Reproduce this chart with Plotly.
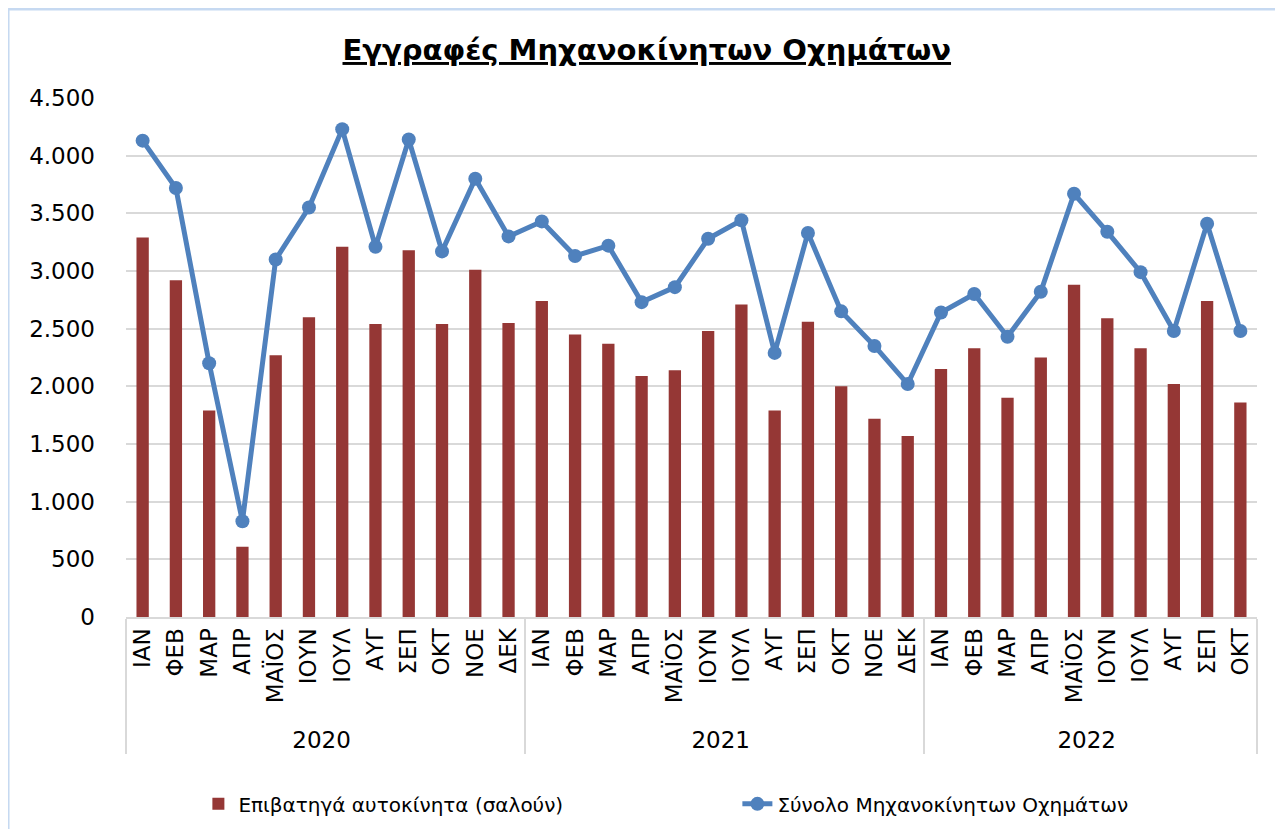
import plotly.graph_objects as go

title_text = "Εγγραφές Μηχανοκίνητων Οχημάτων"
series_bar_name = "Επιβατηγά αυτοκίνητα (σαλούν)"
series_line_name = "Σύνολο Μηχανοκίνητων Οχημάτων"

month_names = ["ΙΑΝ", "ΦΕΒ", "ΜΑΡ", "ΑΠΡ", "ΜΑΪΟΣ", "ΙΟΥΝ", "ΙΟΥΛ", "ΑΥΓ", "ΣΕΠ", "ΟΚΤ", "ΝΟΕ", "ΔΕΚ"]
years = ["2020"] * 12 + ["2021"] * 12 + ["2022"] * 10
months = month_names + month_names + month_names[:10]

passenger_cars = [
    3290, 2920, 1790, 610, 2270, 2600, 3210, 2540, 3180, 2540, 3010, 2550,
    2740, 2450, 2370, 2090, 2140, 2480, 2710, 1790, 2560, 2000, 1720, 1570,
    2150, 2330, 1900, 2250, 2880, 2590, 2330, 2020, 2740, 1860,
]
total_vehicles = [
    4130, 3720, 2200, 830, 3100, 3550, 4230, 3210, 4140, 3170, 3800, 3300,
    3430, 3130, 3220, 2730, 2860, 3280, 3440, 2290, 3330, 2650, 2350, 2020,
    2640, 2800, 2430, 2820, 3670, 3340, 2990, 2480, 3410, 2480,
]

y_ticks = [0, 500, 1000, 1500, 2000, 2500, 3000, 3500, 4000, 4500]

BAR_COLOR = "#953735"
LINE_COLOR = "#4F81BD"
FONT = "DejaVu Sans"

fig = go.Figure()
fig.add_trace(go.Bar(
    x=[years, months], y=passenger_cars, name=series_bar_name,
    marker=dict(color=BAR_COLOR, line=dict(width=0)),
))
fig.add_trace(go.Scatter(
    x=[years, months], y=total_vehicles, name=series_line_name,
    mode="lines+markers",
    line=dict(color=LINE_COLOR, width=5),
    marker=dict(color=LINE_COLOR, size=14),
))

fig.update_layout(
    width=1275, height=821,
    margin=dict(l=118, r=26, t=90, b=212, autoexpand=False),
    paper_bgcolor="white", plot_bgcolor="white",
    separators=",.",
    font=dict(family=FONT, size=22, color="#000000"),
    title=dict(
        text="<b><u>" + title_text + "</u></b>",
        x=0.501, xanchor="center", xref="container",
        y=0.949, yanchor="middle", yref="container",
        font=dict(family=FONT, size=29, color="#000000"),
    ),
    bargap=0.63,
    showlegend=True,
    legend=dict(
        orientation="h", x=0.064, xanchor="left", y=-0.36, yanchor="middle",
        font=dict(family=FONT, size=20, color="#000000"),
        entrywidth=494, entrywidthmode="pixels",
        bgcolor="rgba(0,0,0,0)",
    ),
    xaxis=dict(
        type="multicategory",
        range=[-0.5, 33.5],
        automargin=False,
        tickangle=-90,
        showline=True, linecolor="#D9D9D9", linewidth=2,
        showgrid=False,
        showdividers=True, dividercolor="#D9D9D9", dividerwidth=2,
        tickfont=dict(family=FONT, size=23, color="#000000"),
        ticks="",
    ),
    yaxis=dict(
        range=[0, 4500], tickvals=y_ticks, tickformat=",d",
        automargin=False,
        showgrid=True, gridcolor="#D9D9D9", gridwidth=2,
        zeroline=False, showline=False, ticks="",
        tickfont=dict(family=FONT, size=23, color="#000000"),
        ticklabelstandoff=30,
    ),
)

# light blue frame edges (top and left) like the source image
fig.add_shape(type="line", xref="paper", yref="paper", x0=-0.1043, x1=1.03, y0=1.1715, y1=1.1715,
              line=dict(color="#C6D9F1", width=3))
fig.add_shape(type="line", xref="paper", yref="paper", x0=-0.1043, x1=-0.1043, y0=1.1715, y1=-0.42,
              line=dict(color="#C6D9F1", width=3))

fig.write_html("out.html")
